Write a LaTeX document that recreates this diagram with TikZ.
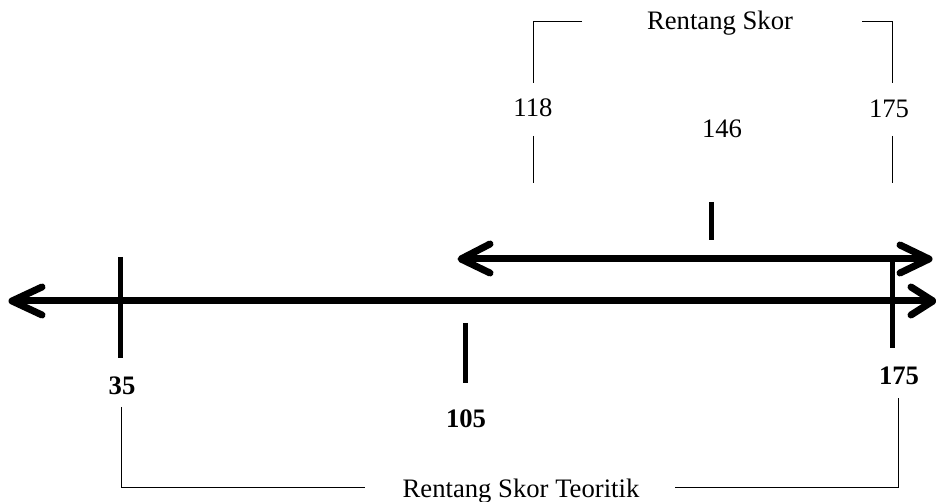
\documentclass[tikz,border=0pt]{standalone}
\usepackage{fontspec}
\setmainfont{Liberation Serif}
\usetikzlibrary{calc}
\begin{document}
\begin{tikzpicture}[x=0.75pt,y=-0.75pt,
  thick line/.style={line width=7*0.75pt, line cap=round, line join=round},
  tick line/.style={line width=5*0.75pt},
  thin line/.style={line width=1*0.75pt},
  lbl/.style={inner sep=0pt, anchor=base, font=\fontsize{20}{24}\selectfont},
  blbl/.style={lbl, font=\fontsize{20}{24}\selectfont\bfseries}]
\useasboundingbox (0,0) rectangle (936,502);
% main number line
\coordinate (ML) at (12,301);
\coordinate (MR) at (933,301);
\draw[thick line] ($(ML)+(3,0)$) -- ($(MR)+(-3,0)$);
\draw[thick line] ($(ML)+(30,-14)$) -- (ML) -- ($(ML)+(30,14)$);
\draw[thick line] ($(MR)+(-22,-14)$) -- (MR) -- ($(MR)+(-22,14)$);
% upper arrow
\coordinate (UL) at (461,259);
\coordinate (UR) at (929,259);
\draw[thick line] ($(UL)+(3,0)$) -- ($(UR)+(-3,0)$);
\draw[thick line] ($(UL)+(29,-15)$) -- (UL) -- ($(UL)+(29,14)$);
\draw[thick line] ($(UR)+(-29,-14)$) -- (UR) -- ($(UR)+(-29,14)$);
% ticks
\coordinate (t35a) at (120,257); \coordinate (t35b) at (120,358);
\coordinate (t105a) at (465,323); \coordinate (t105b) at (465,383);
\coordinate (t146a) at (711,202); \coordinate (t146b) at (711,240);
\coordinate (t175a) at (892,256); \coordinate (t175b) at (892,348);
\draw[tick line] (t35a) -- (t35b);
\draw[tick line] (t105a) -- (t105b);
\draw[tick line] (t146a) -- (t146b);
\draw[tick line] (t175a) -- (t175b);
% bold labels
\node[blbl] (n35) at (122,395) {35};
\node[blbl] (n105) at (466,427) {105};
\node[blbl] (n175b) at (899,385) {175};
% top labels
\node[lbl] (rs) at (720,30) {Rentang Skor};
\node[lbl] (n118) at (533,117) {118};
\node[lbl] (n146) at (722,138) {146};
\node[lbl] (n175) at (889,118) {175};
% top bracket
\coordinate (bl1) at (582,22); \coordinate (bl2) at (533,22); \coordinate (bl3) at (533,83);
\coordinate (br1) at (862,22); \coordinate (br2) at (892,22); \coordinate (br3) at (892,83);
\draw[thin line] (bl1) -- (bl2) -- (bl3);
\draw[thin line] (br1) -- (br2) -- (br3);
\coordinate (sl1) at (533,136); \coordinate (sl2) at (533,183);
\coordinate (sr1) at (892,136); \coordinate (sr2) at (892,183);
\draw[thin line] (sl1) -- (sl2);
\draw[thin line] (sr1) -- (sr2);
% bottom bracket
\node[lbl] (rst) at (521,497) {Rentang Skor Teoritik};
\coordinate (ql1) at (121,407); \coordinate (ql2) at (121,487); \coordinate (ql3) at (365,487);
\coordinate (qr1) at (675,487); \coordinate (qr2) at (898,487); \coordinate (qr3) at (898,398);
\draw[thin line] (ql1) -- (ql2) -- (ql3);
\draw[thin line] (qr1) -- (qr2) -- (qr3);
\end{tikzpicture}
\end{document}
